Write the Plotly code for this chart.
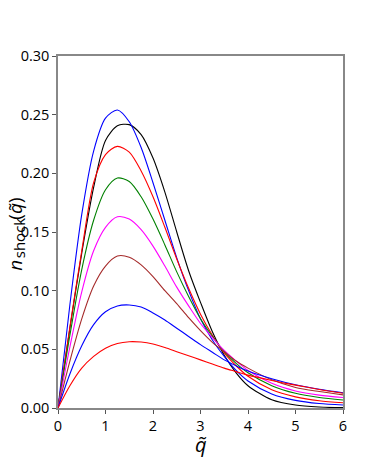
import plotly.graph_objects as go

q = [0, 0.25, 0.5, 0.75, 1.0, 1.25, 1.5, 1.75, 2.0, 2.25, 2.5, 2.75,
     3.0, 3.25, 3.5, 3.75, 4.0, 4.5, 5.0, 5.5, 6.0]

n_black = [0, 0.068, 0.132, 0.188, 0.228, 0.2405, 0.2415, 0.233, 0.213, 0.184, 0.150, 0.117,
           0.090, 0.065, 0.045, 0.030, 0.019, 0.007, 0.0025, 0.0009, 0.0003]
n_blue1 = [0, 0.088, 0.165, 0.219, 0.247, 0.254, 0.244, 0.222, 0.192, 0.160, 0.128, 0.100,
           0.076, 0.058, 0.044, 0.032, 0.023, 0.012, 0.0065, 0.0038, 0.0025]
n_red1 = [0, 0.069, 0.134, 0.192, 0.216, 0.223, 0.218, 0.202, 0.180, 0.154, 0.127, 0.102,
          0.080, 0.062, 0.047, 0.036, 0.027, 0.0155, 0.0095, 0.0062, 0.0045]
n_green = [0, 0.062, 0.118, 0.160, 0.186, 0.196, 0.193, 0.180, 0.161, 0.139, 0.116, 0.095,
           0.076, 0.061, 0.048, 0.038, 0.030, 0.019, 0.0125, 0.009, 0.0068]
n_magenta = [0, 0.052, 0.099, 0.134, 0.154, 0.163, 0.161, 0.152, 0.138, 0.121, 0.103, 0.087,
             0.072, 0.060, 0.049, 0.040, 0.032, 0.021, 0.0145, 0.011, 0.009]
n_brown = [0, 0.040, 0.076, 0.104, 0.121, 0.1295, 0.1285, 0.122, 0.112, 0.100, 0.089, 0.077,
           0.066, 0.056, 0.048, 0.040, 0.034, 0.024, 0.0175, 0.014, 0.0112]
n_blue2 = [0, 0.029, 0.053, 0.071, 0.082, 0.087, 0.0878, 0.086, 0.081, 0.075, 0.068, 0.061,
           0.054, 0.0475, 0.041, 0.036, 0.0315, 0.025, 0.0198, 0.016, 0.013]
n_red2 = [0, 0.019, 0.034, 0.044, 0.051, 0.055, 0.0565, 0.0562, 0.0545, 0.0515, 0.048, 0.0445,
          0.041, 0.0375, 0.034, 0.031, 0.028, 0.0235, 0.0195, 0.0158, 0.0125]

curves = [
    (n_black, "black"),
    (n_blue1, "blue"),
    (n_red1, "red"),
    (n_green, "green"),
    (n_magenta, "magenta"),
    (n_brown, "brown"),
    (n_blue2, "blue"),
    (n_red2, "red"),
]

fig = go.Figure()
for vals, col in curves:
    fig.add_trace(go.Scatter(
        x=q, y=vals, mode="lines",
        line=dict(color=col, width=1.1, shape="spline", smoothing=0.8),
        hoverinfo="skip",
    ))

axis_style = dict(
    showgrid=False, zeroline=False, automargin=False,
    showline=True, linecolor="#888888", linewidth=1.5, mirror=True,
    ticks="outside", ticklen=4, tickwidth=1.2, tickcolor="#555555",
    tickfont=dict(family="Open Sans", size=14.5, color="black"),
)

# y-axis title built from pieces so the subscript sits tight like the original
ylab = [
    ("<i>n</i>", 19, -0.150, 0.405),
    ("shock", 15, -0.136, 0.483),
    ("(<i>q̃</i>)", 19, -0.150, 0.567),
]
annotations = [
    dict(text="<i>q̃</i>", x=0.5, y=-0.105, xref="paper", yref="paper",
         xanchor="center", yanchor="middle", showarrow=False, font=dict(size=20)),
]
for txt, sz, ax, ay in ylab:
    annotations.append(dict(
        text=txt, x=ax, y=ay, xref="paper", yref="paper", textangle=-90,
        xanchor="center", yanchor="middle", showarrow=False, font=dict(size=sz),
    ))

# page body adds ~7px offset, so the figure is a bit smaller than the window
fig.update_layout(
    width=373, height=450,
    paper_bgcolor="white", plot_bgcolor="white",
    showlegend=False,
    margin=dict(l=50, r=38, t=48, b=50),
    font=dict(family="Open Sans", color="black"),
    xaxis=dict(range=[0, 6], tickvals=[0, 1, 2, 3, 4, 5, 6], **axis_style),
    yaxis=dict(range=[0, 0.30], tickvals=[0, 0.05, 0.10, 0.15, 0.20, 0.25, 0.30],
               tickformat=".2f", **axis_style),
    annotations=annotations,
)

fig.write_html("out.html")
